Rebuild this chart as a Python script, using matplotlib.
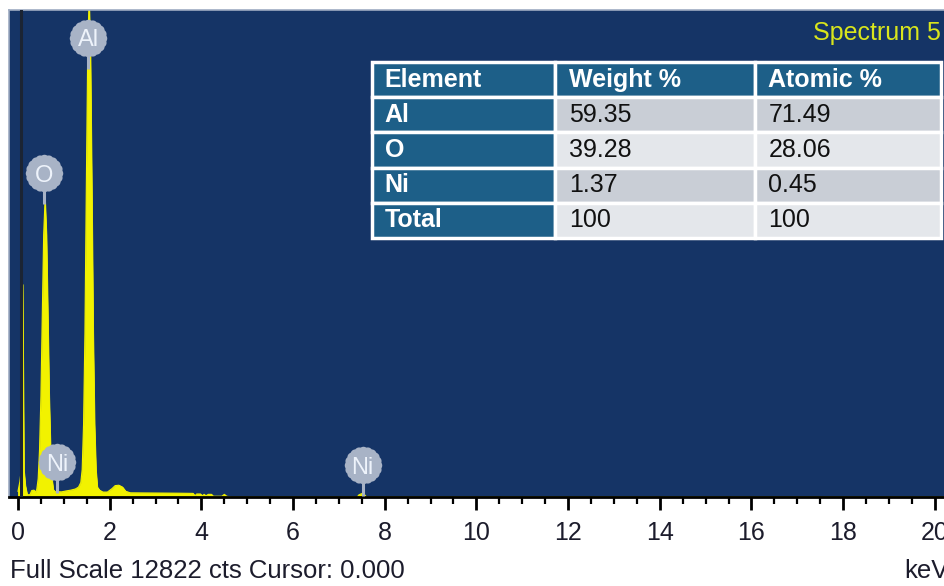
import numpy as np
import matplotlib
matplotlib.use("Agg")
import matplotlib.pyplot as plt
from matplotlib.path import Path
from matplotlib.ticker import MultipleLocator

plt.rcParams['font.family'] = ['Liberation Sans', 'DejaVu Sans']

# EDS spectrum (energy in keV, counts)
energy_kev = [
    0.00, 0.04, 0.07, 0.10, 0.13, 0.16, 0.20, 0.26, 0.30, 0.35, 0.38,
    0.41, 0.44, 0.47, 0.50, 0.53, 0.56, 0.59, 0.62, 0.65, 0.68, 0.71, 0.74, 0.77,
    0.82, 0.87, 0.95, 1.05, 1.15, 1.25, 1.32, 1.37,
    1.40, 1.43, 1.46, 1.49, 1.52, 1.55, 1.58, 1.61, 1.64, 1.67, 1.70, 1.73,
    1.78, 1.85, 1.95, 2.05, 2.12, 2.20, 2.28, 2.35, 2.45, 3.00, 3.50, 3.82,
    3.86, 3.90, 3.98, 4.02, 4.06, 4.10, 4.15, 4.22, 4.26, 4.45, 4.50, 4.55, 4.65,
    7.40, 7.44, 7.50, 7.56, 7.60, 20.5,
]
counts = [
    150, 400, 700, 5600, 700, 300, 60, 60, 170, 180, 120,
    200, 480, 1250, 2650, 4800, 6900, 7820, 6900, 4800, 2650, 1250, 480, 190,
    130, 140, 135, 160, 180, 210, 260, 380,
    720, 1900, 4300, 8100, 11600, 13100, 11600, 8100, 4300, 1900, 720, 260,
    180, 130, 130, 220, 300, 310, 260, 150, 110, 105, 100, 95,
    30, 80, 80, 30, 70, 30, 70, 70, 20, 20, 70, 20, 0,
    0, 60, 90, 60, 0, 0,
]
full_scale = 12822

# element markers: label, energy (keV), badge height (counts)
line_labels = ['Al', 'O', 'Ni', 'Ni']
line_energy = [1.53, 0.565, 0.85, 7.52]
badge_counts = [12085, 8530, 920, 840]

# quantification table
table_cols = ['Element', 'Weight %', 'Atomic %']
table_elements = ['Al', 'O', 'Ni', 'Total']
weight_pct = ['59.35', '39.28', '1.37', '100']
atomic_pct = ['71.49', '28.06', '0.45', '100']

navy = '#153466'
yellow = '#f2f200'
badge_grey = '#a8b3c6'
teal = '#1d5f88'

fig = plt.figure(figsize=(9.45, 5.86), dpi=100)
W, H = 945, 586
ax = fig.add_axes([9 / W, (H - 497) / H, 951 / W, 487 / H])
ax.set_facecolor(navy)

ax.fill_between(energy_kev, counts, 0, color=yellow, lw=0.6, zorder=2)
ax.plot(energy_kev, counts, color=yellow, lw=0.8, zorder=2)

# cursor line at 0.000 keV
ax.axvline(0.06, color='#1b2433', lw=2.2, zorder=3)

ax.set_xlim(-0.196, 20.55)
ax.set_ylim(0, full_scale)

# badges for identified lines (round tag with a bumpy rim)
theta = np.linspace(0, 2 * np.pi, 361)
rad = 1 + 0.035 * np.abs(np.cos(10 * theta))
verts = np.column_stack([rad * np.cos(theta), rad * np.sin(theta)])
badge = Path(verts, closed=True)
px = full_scale / 487
for lab, e, c in zip(line_labels, line_energy, badge_counts):
    ax.plot([e, e], [c - 31 * px, c], color=badge_grey, lw=2.2, zorder=4,
            solid_capstyle='butt')
    ax.scatter([e], [c], s=27 ** 2, marker=badge, color=badge_grey,
               linewidths=0, zorder=5)
    ax.text(e, c, lab, color='#eef3fb', fontsize=17, ha='center',
            va='center_baseline', zorder=6)

# axes styling
ax.spines['right'].set_visible(False)
for side in ['top', 'left']:
    ax.spines[side].set_color('#9eabc2')
    ax.spines[side].set_linewidth(1.2)
ax.spines['bottom'].set_color('black')
ax.spines['bottom'].set_linewidth(2)
ax.set_yticks([])
ax.xaxis.set_major_locator(MultipleLocator(2))
ax.xaxis.set_minor_locator(MultipleLocator(0.5))
ax.tick_params(axis='x', which='major', direction='out', length=9, width=2,
               color='black', labelsize=18, labelcolor='#1c1c2c', pad=8)
ax.tick_params(axis='x', which='minor', direction='out', length=5, width=1.6,
               color='black')

# quantification table
cell_text = [[el, w, a] for el, w, a in zip(table_elements, weight_pct, atomic_pct)]
tab = ax.table(cellText=cell_text, colLabels=table_cols, cellLoc='left',
               colLoc='left', bbox=[0.3817, 0.532, 0.598, 0.361],
               colWidths=[184, 201, 186], zorder=7)
tab.auto_set_font_size(False)
row_fill = ['#c9ced6', '#e4e7eb', '#c9ced6', '#e4e7eb']
for (r, c), cell in tab.get_celld().items():
    cell.set_edgecolor('white')
    cell.set_linewidth(2.5)
    cell.PAD = 0.07
    txt = cell.get_text()
    txt.set_fontsize(18)
    if r == 0 or c == 0:
        cell.set_facecolor(teal)
        txt.set_color('white')
        txt.set_fontweight('bold')
    else:
        cell.set_facecolor(row_fill[r - 1])
        txt.set_color('#111111')

fig.text(813 / W, 1 - 33 / H, 'Spectrum 5', color='#d9e51c', fontsize=18,
         ha='left', va='center')
fig.text(10 / W, 1 - 571 / H, 'Full Scale 12822 cts Cursor: 0.000',
         color='#1c1c2c', fontsize=18.5, ha='left', va='center')
fig.text(904 / W, 1 - 571 / H, 'keV', color='#1c1c2c', fontsize=18.5,
         ha='left', va='center')

fig.savefig('out.png', dpi=100)
